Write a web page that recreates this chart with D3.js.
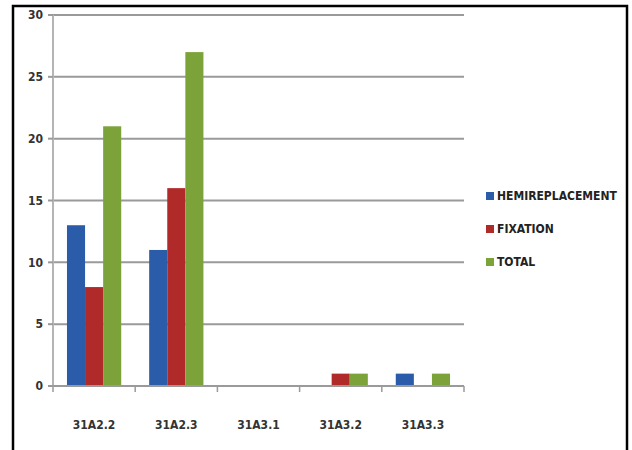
<!DOCTYPE html>
<html>
<head>
<meta charset="utf-8">
<script src="https://cdn.jsdelivr.net/npm/d3@7"></script>
<style>
  html, body { margin: 0; padding: 0; background: #fff; }
  svg { display: block; }
  text { font-family: "Liberation Sans Narrow", "DejaVu Sans Condensed", "Liberation Sans", sans-serif; }
</style>
</head>
<body>
<script>
const categories = ["31A2.2", "31A2.3", "31A3.1", "31A3.2", "31A3.3"];
const seriesNames = ["HEMIREPLACEMENT", "FIXATION", "TOTAL"];
const hemireplacement = [13, 11, 0, 0, 1];
const fixation = [8, 16, 0, 1, 0];
const total = [21, 27, 0, 1, 1];
const yTicks = [0, 5, 10, 15, 20, 25, 30];
const colors = ["#2a5caa", "#b02a2a", "#7ba33a"];

(function () {
const W = 632, H = 450;
const svg = d3.select("body").append("svg").attr("width", W).attr("height", H);

// frame
svg.append("rect").attr("x", 13).attr("y", 6).attr("width", 614).attr("height", 470)
  .attr("fill", "none").attr("stroke", "#000").attr("stroke-width", 2.5);

const pLeft = 53, pRight = 464, pTop = 15, pBottom = 386;
const y = d3.scaleLinear().domain([0, 30]).range([pBottom, pTop]);
const x0 = d3.scaleBand().domain(categories).range([pLeft, pRight]).paddingInner(0.34).paddingOuter(0.17);
const x1 = d3.scaleBand().domain(seriesNames).range([0, x0.bandwidth()]);

const data = categories.map((c, i) => ({
  cat: c,
  vals: [hemireplacement[i], fixation[i], total[i]].map((v, j) => ({ s: seriesNames[j], v, j }))
}));

// gridlines
svg.append("g").selectAll("line").data(yTicks.filter(t => t > 0)).join("line")
  .attr("x1", pLeft).attr("x2", pRight)
  .attr("y1", d => y(d)).attr("y2", d => y(d))
  .attr("stroke", "#9a9a9a").attr("stroke-width", 2);

// y axis line
svg.append("line").attr("x1", pLeft).attr("x2", pLeft).attr("y1", pTop).attr("y2", pBottom)
  .attr("stroke", "#b5b5b5").attr("stroke-width", 2);
svg.append("g").selectAll("line").data(yTicks).join("line")
  .attr("x1", pLeft - 5).attr("x2", pLeft).attr("y1", d => y(d)).attr("y2", d => y(d))
  .attr("stroke", "#9a9a9a").attr("stroke-width", 2);
svg.append("g").selectAll("text").data(yTicks).join("text")
  .attr("x", 43).attr("y", d => y(d)).attr("dy", "0.35em")
  .attr("text-anchor", "end").attr("font-size", 12).attr("font-weight", "bold")
  .attr("fill", "#333").text(d => d);

// bars
const g = svg.append("g").selectAll("g").data(data).join("g")
  .attr("transform", d => `translate(${x0(d.cat)},0)`);
g.selectAll("rect").data(d => d.vals).join("rect")
  .attr("x", d => x1(d.s)).attr("width", x1.bandwidth())
  .attr("y", d => y(d.v)).attr("height", d => y(0) - y(d.v))
  .attr("fill", d => colors[d.j]);

// x axis line
svg.append("line").attr("x1", pLeft - 5).attr("x2", pRight).attr("y1", pBottom).attr("y2", pBottom)
  .attr("stroke", "#9a9a9a").attr("stroke-width", 2);
const tickXs = categories.map(c => x0(c) - x0.step() * x0.paddingInner() / 2).concat([pRight]);
tickXs[0] = pLeft;
svg.append("g").selectAll("line").data(tickXs).join("line")
  .attr("x1", d => d).attr("x2", d => d).attr("y1", pBottom).attr("y2", pBottom + 6)
  .attr("stroke", "#9a9a9a").attr("stroke-width", 1.5);
svg.append("g").selectAll("text").data(categories).join("text")
  .attr("x", d => x0(d) + x0.bandwidth() / 2).attr("y", 425).attr("dy", "0.35em")
  .attr("text-anchor", "middle").attr("font-size", 12).attr("font-weight", "bold")
  .attr("fill", "#333").text(d => d);

// legend
const legY = [196, 229, 262];
const leg = svg.append("g").selectAll("g").data(seriesNames).join("g")
  .attr("transform", (d, i) => `translate(486,${legY[i]})`);
leg.append("rect").attr("x", 0).attr("y", -4).attr("width", 8).attr("height", 8)
  .attr("fill", (d, i) => colors[i]);
leg.append("text").attr("x", 11).attr("y", 0).attr("dy", "0.35em")
  .attr("font-size", 12).attr("font-weight", "bold").attr("fill", "#222").text(d => d);
})();
</script>
</body>
</html>
